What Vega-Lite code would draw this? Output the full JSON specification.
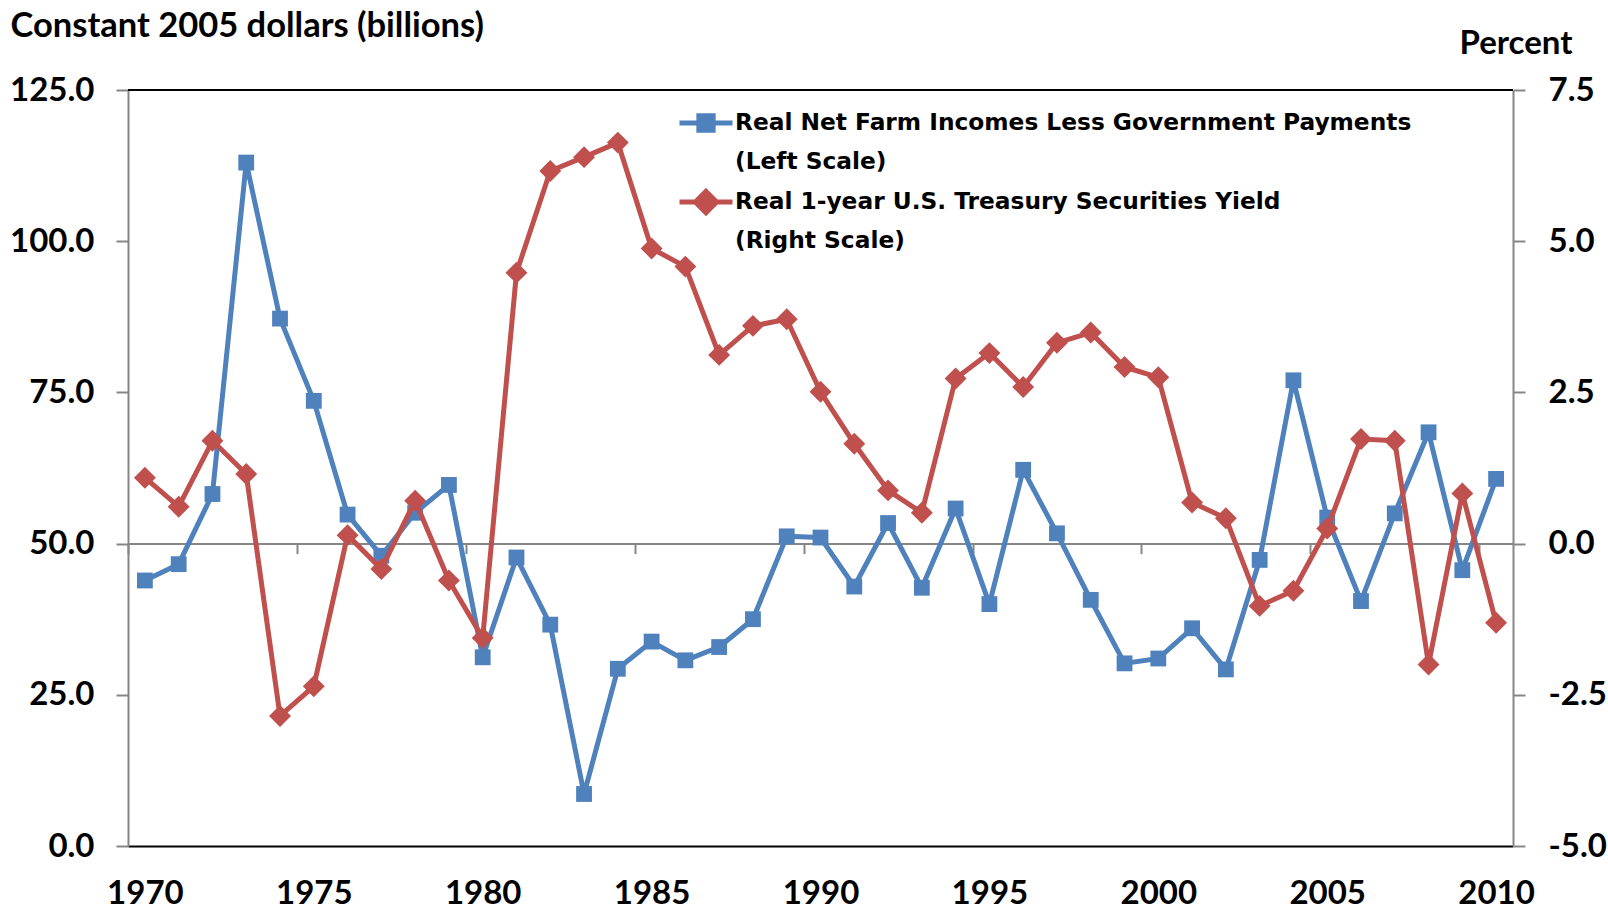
{
  "$schema": "https://vega.github.io/schema/vega-lite/v6.json",
  "width": 1385,
  "height": 756,
  "autosize": {"type": "none"},
  "padding": {"left": 128, "top": 90, "right": 95, "bottom": 64},
  "background": "white",
  "config": {"view": {"stroke": null}, "axis": {"grid": false}},
  "data": {
    "values": [
      {"year": 1970, "farm": 43.9, "yield": 1.09},
      {"year": 1971, "farm": 46.6, "yield": 0.61},
      {"year": 1972, "farm": 58.2, "yield": 1.70},
      {"year": 1973, "farm": 113.0, "yield": 1.15},
      {"year": 1974, "farm": 87.2, "yield": -2.85},
      {"year": 1975, "farm": 73.6, "yield": -2.36},
      {"year": 1976, "farm": 54.8, "yield": 0.14},
      {"year": 1977, "farm": 48.0, "yield": -0.42},
      {"year": 1978, "farm": 55.1, "yield": 0.71},
      {"year": 1979, "farm": 59.7, "yield": -0.61},
      {"year": 1980, "farm": 31.2, "yield": -1.56},
      {"year": 1981, "farm": 47.7, "yield": 4.48},
      {"year": 1982, "farm": 36.6, "yield": 6.16},
      {"year": 1983, "farm": 8.6, "yield": 6.39},
      {"year": 1984, "farm": 29.3, "yield": 6.63},
      {"year": 1985, "farm": 33.8, "yield": 4.88},
      {"year": 1986, "farm": 30.7, "yield": 4.58},
      {"year": 1987, "farm": 32.9, "yield": 3.12},
      {"year": 1988, "farm": 37.5, "yield": 3.60},
      {"year": 1989, "farm": 51.2, "yield": 3.71},
      {"year": 1990, "farm": 51.0, "yield": 2.51},
      {"year": 1991, "farm": 42.9, "yield": 1.65},
      {"year": 1992, "farm": 53.4, "yield": 0.88},
      {"year": 1993, "farm": 42.7, "yield": 0.51},
      {"year": 1994, "farm": 55.8, "yield": 2.73},
      {"year": 1995, "farm": 40.0, "yield": 3.15},
      {"year": 1996, "farm": 62.2, "yield": 2.59},
      {"year": 1997, "farm": 51.7, "yield": 3.32},
      {"year": 1998, "farm": 40.7, "yield": 3.49},
      {"year": 1999, "farm": 30.2, "yield": 2.92},
      {"year": 2000, "farm": 31.0, "yield": 2.75},
      {"year": 2001, "farm": 36.0, "yield": 0.68},
      {"year": 2002, "farm": 29.2, "yield": 0.42},
      {"year": 2003, "farm": 47.3, "yield": -1.03},
      {"year": 2004, "farm": 77.0, "yield": -0.78},
      {"year": 2005, "farm": 54.3, "yield": 0.25},
      {"year": 2006, "farm": 40.5, "yield": 1.73},
      {"year": 2007, "farm": 55.0, "yield": 1.70},
      {"year": 2008, "farm": 68.4, "yield": -2.00},
      {"year": 2009, "farm": 45.6, "yield": 0.83},
      {"year": 2010, "farm": 60.7, "yield": -1.31}
    ]
  },
  "layer": [
    {
      "data": {"values": [{"edge": 125}]},
      "mark": {"type": "rule", "color": "#000000", "strokeWidth": 2},
      "encoding": {
        "y": {"field": "edge", "type": "quantitative", "scale": {"domain": [0, 125], "nice": false}, "axis": null}
      }
    },
    {
      "mark": {
        "type": "line",
        "strokeWidth": 5,
        "strokeJoin": "round",
        "point": {"shape": "square", "size": 250, "filled": true, "opacity": 1}
      },
      "encoding": {
        "x": {
          "field": "year",
          "type": "quantitative",
          "scale": {"domain": [1969.5, 2010.5], "nice": false, "zero": false},
          "axis": {
            "orient": "bottom",
            "values": [1970, 1975, 1980, 1985, 1990, 1995, 2000, 2005, 2010],
            "format": "d",
            "domain": true,
            "domainColor": "#000000",
            "domainWidth": 2,
            "ticks": false,
            "tickSize": 0,
            "labelPadding": 31,
            "labelFont": "Lato",
            "labelFontWeight": "bold",
            "labelFontSize": 33,
            "labelColor": "#000000",
            "labelFlush": false,
            "labelOverlap": false,
            "title": null,
            "grid": false
          }
        },
        "y": {
          "field": "farm",
          "type": "quantitative",
          "scale": {"domain": [0, 125], "nice": false},
          "axis": {
            "orient": "left",
            "values": [0, 25, 50, 75, 100, 125],
            "format": ".1f",
            "domainColor": "#868686",
            "domainWidth": 2,
            "tickColor": "#868686",
            "tickWidth": 2,
            "tickSize": 12,
            "labelPadding": 22,
            "labelFont": "Lato",
            "labelFontWeight": "bold",
            "labelFontSize": 33,
            "labelColor": "#000000",
            "labelFlush": false,
            "title": "Constant 2005 dollars (billions)",
            "titleAngle": 0,
            "titleX": -118,
            "titleY": -64,
            "titleAlign": "left",
            "titleBaseline": "middle",
            "titleFont": "Lato",
            "titleFontWeight": "bold",
            "titleFontSize": 34.5,
            "titleColor": "#000000",
            "grid": false
          }
        },
        "color": {
          "datum": "Real Net Farm Incomes Less Government Payments|(Left Scale)",
          "type": "nominal",
          "scale": {
            "domain": ["Real Net Farm Incomes Less Government Payments|(Left Scale)", "Real 1-year U.S. Treasury Securities Yield|(Right Scale)"],
            "range": ["#4F81BD", "#C0504D"]
          },
          "legend": {
            "orient": "none",
            "legendX": 549,
            "legendY": 4,
            "title": null,
            "direction": "vertical",
            "labelExpr": "split(datum.label, '|')",
            "labelFont": "DejaVu Sans",
            "labelFontWeight": "bold",
            "labelFontSize": 23.3,
            "labelColor": "#000000",
            "labelLimit": 1000,
            "labelOffset": 0,
            "symbolSize": 2809,
            "symbolStrokeWidth": 5,
            "rowPadding": 0,
            "encode": {
              "symbols": {
                "update": {
                  "shape": {"signal": "indexof(datum.value, 'Farm') >= 0 ? 'M-1,0H1M-0.27,-0.27H0.27V0.27H-0.27Z' : 'M-1,0H1M0,-0.4L0.4,0L0,0.4L-0.4,0Z'"},
                  "fill": {"scale": "color", "field": "value"},
                  "stroke": {"scale": "color", "field": "value"},
                  "strokeWidth": {"value": 5},
                  "opacity": {"value": 1}
                }
              },
              "labels": {
                "update": {
                  "lineHeight": {"value": 38.5}
                }
              }
            }
          }
        }
      }
    },
    {
      "mark": {
        "type": "line",
        "strokeWidth": 5,
        "strokeJoin": "round",
        "point": {"shape": "diamond", "size": 480, "filled": true, "opacity": 1}
      },
      "encoding": {
        "x": {
          "field": "year",
          "type": "quantitative",
          "scale": {"domain": [1969.5, 2010.5], "nice": false, "zero": false},
          "axis": {
            "orient": "bottom",
            "offset": -302.4,
            "values": [1969.5, 1974.5, 1979.5, 1984.5, 1989.5, 1994.5, 1999.5, 2004.5, 2009.5],
            "labels": false,
            "domain": true,
            "domainColor": "#868686",
            "domainWidth": 2,
            "ticks": true,
            "tickColor": "#868686",
            "tickWidth": 2,
            "tickSize": 10,
            "title": null,
            "grid": false
          }
        },
        "y": {
          "field": "yield",
          "type": "quantitative",
          "scale": {"domain": [-5, 7.5], "nice": false, "zero": false},
          "axis": {
            "orient": "right",
            "values": [-5, -2.5, 0, 2.5, 5, 7.5],
            "labelExpr": "replace(format(datum.value, '.1f'), '\u2212', '-')",
            "domainColor": "#868686",
            "domainWidth": 2,
            "tickColor": "#868686",
            "tickWidth": 2,
            "tickSize": 12,
            "labelPadding": 23,
            "labelFont": "Lato",
            "labelFontWeight": "bold",
            "labelFontSize": 33,
            "labelColor": "#000000",
            "labelFlush": false,
            "title": "Percent",
            "titleAngle": 0,
            "titleX": 59,
            "titleY": -47,
            "titleAlign": "right",
            "titleBaseline": "middle",
            "titleFont": "Lato",
            "titleFontWeight": "bold",
            "titleFontSize": 33,
            "titleColor": "#000000",
            "grid": false
          }
        },
        "color": {
          "datum": "Real 1-year U.S. Treasury Securities Yield|(Right Scale)",
          "type": "nominal"
        }
      }
    }
  ],
  "resolve": {"scale": {"y": "independent"}, "axis": {"x": "independent"}}
}
